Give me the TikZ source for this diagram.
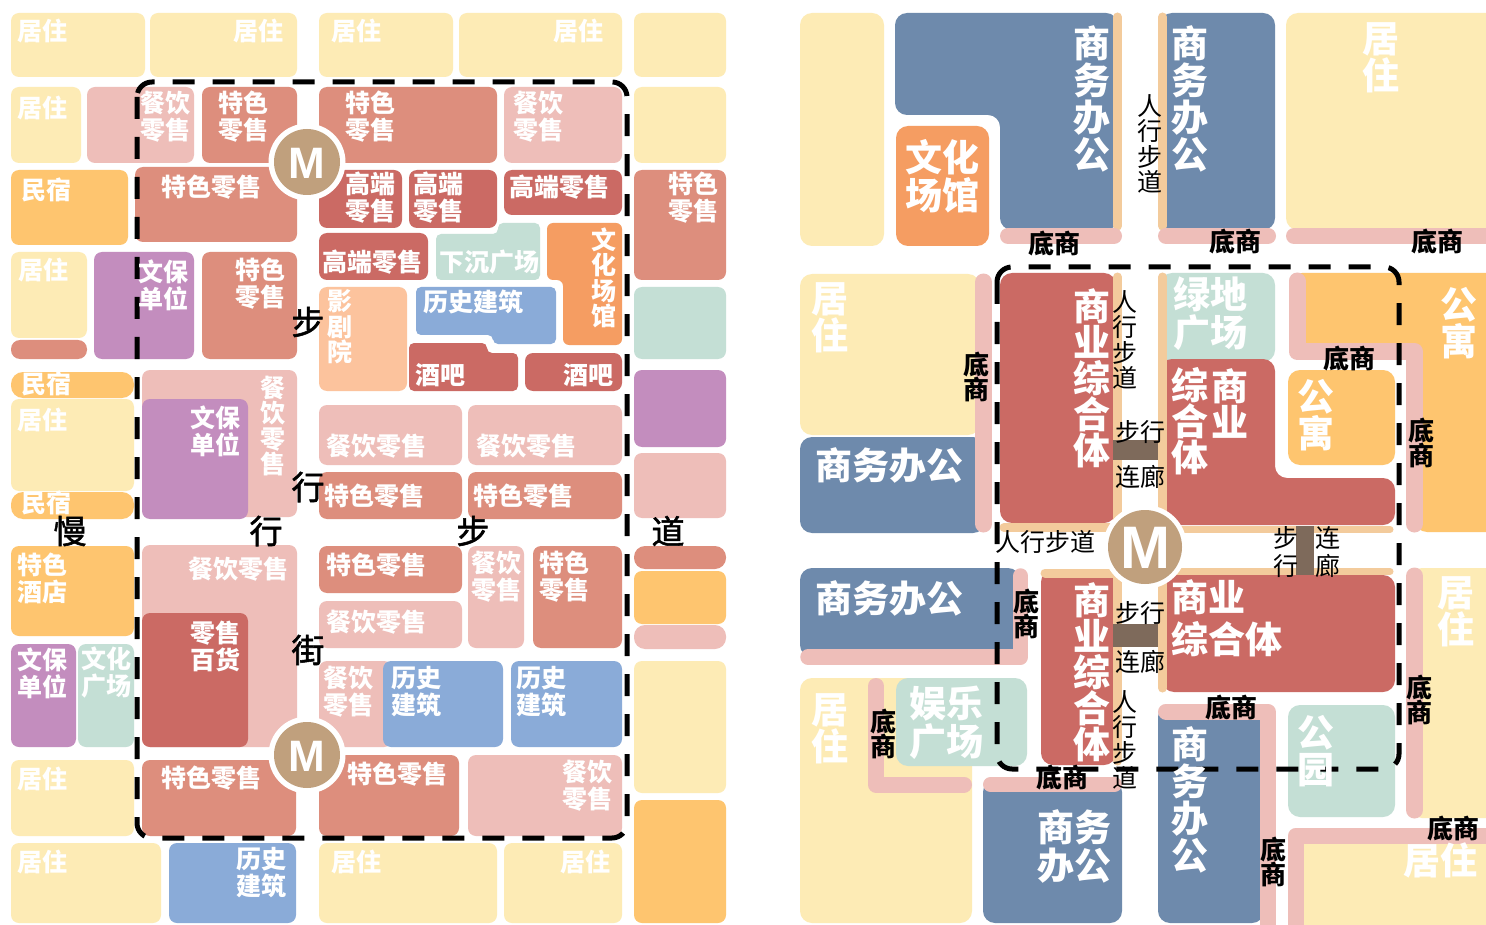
\documentclass[tikz,border=0pt]{standalone}
\usepackage{fontspec}
\newfontfamily\cjk{Noto Sans CJK SC}
\newfontfamily\cjkmed[FakeBold=1.6]{Noto Sans CJK SC}
\newfontfamily\msans{Liberation Sans}
\definecolor{cY}{HTML}{FDEBB5}
\definecolor{cO}{HTML}{FEC56F}
\definecolor{cP}{HTML}{EEBEB9}
\definecolor{cT}{HTML}{DD8E7D}
\definecolor{cR}{HTML}{CB6A64}
\definecolor{cV}{HTML}{C38DBE}
\definecolor{cG}{HTML}{C4DFD5}
\definecolor{cC}{HTML}{F59D62}
\definecolor{cB}{HTML}{8AABD8}
\definecolor{cK}{HTML}{FCC39D}
\definecolor{cM}{HTML}{C0A07D}
\definecolor{cS}{HTML}{6E8AAC}
\definecolor{cW}{HTML}{F3CB9C}
\definecolor{cBr}{HTML}{7E6A5B}
\newcommand{\plotbox}[6][8pt]{\fill[#6,rounded corners=#1] (#2,#3) rectangle (#4,#5);}
\begin{document}
\begin{tikzpicture}[x=1pt,y=-1pt,
  wl/.style={text=white,font=\cjk\bfseries\fontsize{25}{27}\selectfont,inner sep=0pt,align=center},
  wv/.style={wl,font=\cjk\bfseries\fontsize{25}{25.4}\selectfont},
  wL/.style={text=white,font=\cjk\bfseries\fontsize{37}{38}\selectfont,inner sep=0pt,align=center},
  wV/.style={wL,font=\cjk\bfseries\fontsize{37}{37}\selectfont},
  bg/.style={text=black,font=\cjkmed\fontsize{33}{33}\selectfont,inner sep=0pt},
  bs/.style={text=black,font=\cjk\bfseries\fontsize{26}{25}\selectfont,inner sep=0pt,align=center},
  bn/.style={text=black,font=\cjk\fontsize{25}{25.5}\selectfont,inner sep=0pt,align=center},
  dsh/.style={line width=5pt,dash pattern=on 22pt off 18pt,rounded corners=15pt},
  st/.style={line cap=round,line join=round},
  mlab/.style={text=white,font=\msans\bfseries\fontsize{44}{44}\selectfont,inner sep=0pt}]
\useasboundingbox (0,0) rectangle (1486,925);
\clip (0,0) rectangle (1486,925);
\fill[white] (0,0) rectangle (1486,925);
% ================= LEFT PANEL =================
\plotbox{11}{13}{145}{77}{cY}
\plotbox{150}{13}{297}{77}{cY}
\plotbox{319}{13}{453}{77}{cY}
\plotbox{459}{13}{622}{77}{cY}
\plotbox{634}{13}{726}{77}{cY}
\plotbox{11}{87}{81}{163}{cY}
\plotbox{87}{87}{194}{163}{cP}
\plotbox{202}{87}{297}{163}{cT}
\plotbox{319}{87}{497}{163}{cT}
\plotbox{504}{87}{622}{163}{cP}
\plotbox{634}{87}{726}{163}{cY}
\plotbox{11}{170}{128}{245}{cO}
\plotbox{135}{167}{297}{242}{cT}
\plotbox{319}{170}{402}{228}{cR}
\plotbox{409}{170}{497}{228}{cR}
\plotbox{504}{170}{622}{215}{cR}
\plotbox{634}{170}{726}{280}{cT}
\plotbox{11}{252}{87}{338}{cY}
\plotbox[9pt]{11}{340}{87}{359}{cT}
\plotbox{94}{252}{194}{359}{cV}
\plotbox{202}{252}{297}{359}{cT}
\plotbox{319}{233}{428}{280}{cR}
\fill[cG,rounded corners=5pt] (436,234) -- (498,234) -- (498,223) -- (540,223) -- (540,280) -- (436,280) -- cycle;
\fill[cC,rounded corners=6pt] (547,223) -- (622,223) -- (622,345) -- (563,345) -- (563,280) -- (547,280) -- cycle;
\plotbox{634}{287}{726}{359}{cG}
\plotbox{319}{287}{407}{391}{cK}
\fill[cB,rounded corners=5pt] (416,287) -- (556,287) -- (556,344) -- (493,344) -- (493,335) -- (416,335) -- cycle;
\fill[cR,rounded corners=5pt] (409,343) -- (487,343) -- (487,353) -- (518,353) -- (518,391) -- (409,391) -- cycle;
\plotbox{525}{353}{622}{391}{cR}
\plotbox{634}{370}{726}{447}{cV}
\plotbox[12pt]{11}{372}{134}{398}{cO}
\plotbox{11}{399}{134}{491}{cY}
\plotbox[12pt]{11}{492}{134}{519}{cO}
\plotbox{142}{370}{297}{517}{cP}
\plotbox{142}{399}{248}{519}{cV}
\plotbox{319}{405}{462}{465}{cP}
\plotbox{468}{405}{622}{465}{cP}
\plotbox{319}{472}{462}{519}{cT}
\plotbox{468}{472}{622}{519}{cT}
\plotbox{634}{453}{726}{518}{cP}
\plotbox{11}{546}{134}{636}{cO}
\plotbox{142}{545}{297}{747}{cP}
\plotbox{142}{613}{248}{747}{cR}
\plotbox{319}{546}{462}{593}{cT}
\plotbox{319}{601}{462}{648}{cP}
\plotbox{468}{546}{524}{648}{cP}
\plotbox{533}{546}{622}{648}{cT}
\plotbox[11pt]{634}{546}{726}{569}{cT}
\plotbox{634}{571}{726}{624}{cO}
\plotbox[11pt]{634}{625}{726}{649}{cP}
\plotbox{11}{644}{76}{747}{cV}
\plotbox{78}{644}{134}{747}{cG}
\plotbox{319}{661}{392}{747}{cP}
\plotbox{383}{661}{503}{747}{cB}
\plotbox{511}{661}{622}{747}{cB}
\plotbox{634}{661}{726}{793}{cY}
\plotbox{11}{760}{134}{836}{cY}
\plotbox{142}{760}{296}{836}{cT}
\plotbox{319}{755}{459}{836}{cT}
\plotbox{468}{755}{622}{836}{cP}
\plotbox{634}{800}{726}{923}{cO}
\plotbox{11}{843}{161}{923}{cY}
\plotbox{169}{843}{296}{923}{cB}
\plotbox{319}{843}{497}{923}{cY}
\plotbox{504}{843}{622}{923}{cY}
% metro
\fill[white] (307,162) circle[radius=38.5];
\fill[cM] (307,162) circle[radius=33];
\node[mlab] (m1) at (307,163) {M};
\fill[white] (307,755) circle[radius=38.5];
\fill[cM] (307,755) circle[radius=33];
\node[mlab] (m2) at (307,756) {M};
% dashed boundary
\draw[dsh] (137,82) rectangle (627,838);
% labels
\node[wl] (a1) at (42,31) {居住};
\node[wl] (a2) at (258,31) {居住};
\node[wl] (a3) at (356,31) {居住};
\node[wl] (a4) at (578,31) {居住};
\node[wl] (a5) at (42,108) {居住};
\node[wl] (a6) at (165,117) {餐饮\\零售};
\node[wl] (a7) at (243,117) {特色\\零售};
\node[wl] (a8) at (370,117) {特色\\零售};
\node[wl] (a9) at (538,117) {餐饮\\零售};
\node[wl] (a10) at (46,190) {民宿};
\node[wl] (a11) at (211,187) {特色零售};
\node[wl] (a12) at (370,198) {高端\\零售};
\node[wl] (a13) at (438,198) {高端\\零售};
\node[wl] (a14) at (559,187) {高端零售};
\node[wl] (a15) at (693,198) {特色\\零售};
\node[wl] (a16) at (43,270) {居住};
\node[wl] (a17) at (163,285) {文保\\单位};
\node[wl] (a18) at (260,284) {特色\\零售};
\node[wl] (a19) at (372,262) {高端零售};
\node[wl] (a20) at (489,262) {下沉广场};
\node[wv] (a21) at (604,278) {文\\化\\场\\馆};
\node[wv] (a22) at (340,327) {影\\剧\\院};
\node[wl] (a23) at (473,302) {历史建筑};
\node[wl] (a24) at (440,375) {酒吧};
\node[wl] (a25) at (588,375) {酒吧};
\node[wl] (a26) at (46,384) {民宿};
\node[wl] (a27) at (42,420) {居住};
\node[wl] (a28) at (46,503) {民宿};
\node[wl] (a29) at (215,431) {文保\\单位};
\node[wv] (a30) at (273,426) {餐\\饮\\零\\售};
\node[wl] (a31) at (376,446) {餐饮零售};
\node[wl] (a32) at (526,446) {餐饮零售};
\node[wl] (a33) at (374,496) {特色零售};
\node[wl] (a34) at (523,496) {特色零售};
\node[wl] (a35) at (42,578) {特色\\酒店};
\node[wl] (a36) at (238,569) {餐饮零售};
\node[wl] (a37) at (215,646) {零售\\百货};
\node[wl] (a38) at (376,565) {特色零售};
\node[wl] (a39) at (496,577) {餐饮\\零售};
\node[wl] (a40) at (564,577) {特色\\零售};
\node[wl] (a41) at (376,622) {餐饮零售};
\node[wl] (a42) at (42,673) {文保\\单位};
\node[wl] (a43) at (106,673) {文化\\广场};
\node[wl] (a44) at (348,692) {餐饮\\零售};
\node[wl] (a45) at (416,692) {历史\\建筑};
\node[wl] (a46) at (541,692) {历史\\建筑};
\node[wl] (a47) at (42,779) {居住};
\node[wl] (a48) at (211,778) {特色零售};
\node[wl] (a49) at (397,774) {特色零售};
\node[wl] (a50) at (587,786) {餐饮\\零售};
\node[wl] (a51) at (42,862) {居住};
\node[wl] (a52) at (261,873) {历史\\建筑};
\node[wl] (a53) at (356,862) {居住};
\node[wl] (a54) at (585,862) {居住};
% street words
\node[bg] (s1) at (308,322) {步};
\node[bg] (s2) at (308,487) {行};
\node[bg] (s3) at (308,650) {街};
\node[bg] (s4) at (70,531) {慢};
\node[bg] (s5) at (266,531) {行};
\node[bg] (s6) at (473,531) {步};
\node[bg] (s7) at (668,531) {道};
% ================= RIGHT PANEL =================
\plotbox[12pt]{800}{13}{884}{246}{cY}
\fill[cS,rounded corners=12pt] (895,13) -- (1118,13) -- (1118,230) -- (1000,230) -- (1000,115) -- (895,115) -- cycle;
\draw[cW,line width=9pt,st] (1117.5,17) -- (1117.5,226);
\draw[cP,line width=16pt,st] (1008,236) -- (1114,236);
\plotbox[12pt]{896}{126}{989}{246}{cC}
\plotbox[12pt]{1160}{13}{1275}{230}{cS}
\draw[cW,line width=9pt,st] (1162.5,17) -- (1162.5,226);
\draw[cP,line width=16pt,st] (1166,236) -- (1268,236);
\plotbox[12pt]{1286}{13}{1500}{230}{cY}
\draw[cP,line width=16pt,st] (1294,236) -- (1500,236);
% middle
\plotbox[12pt]{800}{274}{980}{435}{cY}
\plotbox[12pt]{800}{437}{985}{533}{cS}
\draw[cP,line width=17pt,st] (983.5,282) -- (983.5,524);
\plotbox[12pt]{1000}{273}{1116}{523}{cR}
\draw[cW,line width=9pt,st] (1117.5,277) -- (1117.5,527.5) -- (1004,527.5);
\fill[cBr] (1113,440) rectangle (1167,460);
\plotbox[12pt]{1160}{273}{1275}{362}{cG}
\fill[cR,rounded corners=12pt] (1160,359) -- (1275,359) -- (1275,478) -- (1395,478) -- (1395,525) -- (1160,525) -- cycle;
\draw[cW,line width=9pt,st] (1162.5,277) -- (1162.5,528);
\draw[cW,line width=7pt,st] (1163,529.5) -- (1390,529.5);
\draw[cW,line width=7pt,st] (1163,571.5) -- (1390,571.5);
\fill[cBr] (1296,526) rectangle (1314,575);
\fill[cO,rounded corners=12pt] (1290,273) -- (1500,273) -- (1500,532) -- (1415,532) -- (1415,351) -- (1290,351) -- cycle;
\draw[cP,line width=17pt,st] (1297,281) -- (1297,351.5) -- (1414.5,351.5) -- (1414.5,524);
\plotbox[12pt]{1288}{370}{1395}{465}{cO}
% lower
\plotbox[12pt]{800}{568}{1020}{657}{cS}
\draw[cP,line width=15.5pt,st] (1020.5,576) -- (1020.5,657) -- (808,657);
\plotbox[12pt]{1041}{570}{1116}{765}{cR}
\draw[cW,line width=9pt,st] (1045,573) -- (1117.5,573) -- (1117.5,761);
\fill[cBr] (1113,624) rectangle (1167,647);
\plotbox[12pt]{1162}{575}{1395}{692}{cR}
\draw[cW,line width=9pt,st] (1162.5,579) -- (1162.5,688);
\plotbox[12pt]{800}{678}{972}{923}{cY}
\draw[cP,line width=16pt,st] (876,686) -- (876,784.5) -- (964,784.5);
\plotbox[12pt]{896}{678}{1027}{766}{cG}
\plotbox[12pt]{983}{780}{1122}{923}{cS}
\draw[cP,line width=15pt,st] (990.5,784.5) -- (1114.5,784.5);
\plotbox[12pt]{1158}{705}{1264}{923}{cS}
\draw[cP,line width=16pt,st] (1166,711.5) -- (1267.5,711.5) -- (1267.5,940);
\plotbox[12pt]{1288}{705}{1395}{817}{cG}
\plotbox[12pt]{1410}{568}{1500}{818}{cY}
\draw[cP,line width=17pt,st] (1414.5,576) -- (1414.5,810);
\plotbox[12pt]{1296}{835}{1500}{940}{cY}
\draw[cP,line width=16pt,st] (1296,940) -- (1296,835.5) -- (1500,835.5);
% metro
\fill[white] (1145,547) circle[radius=42];
\fill[cM] (1145,547) circle[radius=37];
\node[mlab,font=\msans\bfseries\fontsize{60}{60}\selectfont] (m3) at (1145,548) {M};
% dashed
\draw[dsh] (997,267) rectangle (1399,769);
% white labels
\node[wV] (rA) at (1092,99) {商\\务\\办\\公};
\node[wV] (rB) at (1190,99) {商\\务\\办\\公};
\node[wV] (rC) at (1381,58) {居\\住};
\node[wL] (rD) at (942,176) {文化\\场馆};
\node[wV] (rE) at (830,318) {居\\住};
\node[wL] (rF) at (889,465) {商务办公};
\node[wV,font=\cjk\bfseries\fontsize{37}{36}\selectfont] (rG) at (1092,378) {商\\业\\综\\合\\体};
\node[wL] (rH) at (1210,314) {绿地\\广场};
\node[wV,font=\cjk\bfseries\fontsize{37}{36}\selectfont] (rI) at (1230,403) {商\\业};
\node[wV,font=\cjk\bfseries\fontsize{37}{36}\selectfont] (rJ) at (1190,421) {综\\合\\体};
\node[wV] (rK) at (1459,323) {公\\寓};
\node[wV] (rL) at (1316,415) {公\\寓};
\node[wL] (rM) at (889,598) {商务办公};
\node[wV,font=\cjk\bfseries\fontsize{37}{36}\selectfont] (rN) at (1092,672) {商\\业\\综\\合\\体};
\node[wL,align=left,anchor=west,font=\cjk\bfseries\fontsize{37}{42}\selectfont] (rO) at (1171,618) {商业\\综合体};
\node[wV] (rP) at (830,729) {居\\住};
\node[wL] (rQ) at (946,723) {娱乐\\广场};
\node[wL] (rR) at (1074,846) {商务\\办公};
\node[wV] (rS) at (1190,800) {商\\务\\办\\公};
\node[wV] (rT) at (1316,751) {公\\园};
\node[wV] (rU) at (1456,612) {居\\住};
\node[wL] (rV) at (1440,860) {居住};
% black labels
\node[bs] (d1) at (1054,244) {底商};
\node[bs] (d2) at (1235,242) {底商};
\node[bs] (d3) at (1437,242) {底商};
\node[bs] (d4) at (976,377) {底\\商};
\node[bs] (d5) at (1349,359) {底商};
\node[bs] (d6) at (1421,443) {底\\商};
\node[bs] (d7) at (1026,614) {底\\商};
\node[bs] (d8) at (883,734) {底\\商};
\node[bs] (d9) at (1062,778) {底商};
\node[bs] (d10) at (1231,708) {底商};
\node[bs] (d11) at (1419,700) {底\\商};
\node[bs] (d12) at (1273,862) {底\\商};
\node[bs] (d13) at (1453,829) {底商};
\node[bn] (w1) at (1150,144) {人\\行\\步\\道};
\node[bn] (w2) at (1125,340) {人\\行\\步\\道};
\node[bn] (w3) at (1140,432) {步行};
\node[bn] (w4) at (1140,477) {连廊};
\node[bn] (w5) at (1045,542) {人行步道};
\node[bn,font=\cjk\fontsize{25}{28}\selectfont] (w6) at (1286,552) {步\\行};
\node[bn,font=\cjk\fontsize{25}{28}\selectfont] (w7) at (1328,552) {连\\廊};
\node[bn] (w8) at (1140,613) {步行};
\node[bn] (w9) at (1140,662) {连廊};
\node[bn] (w10) at (1125,740) {人\\行\\步\\道};
\end{tikzpicture}
\end{document}
